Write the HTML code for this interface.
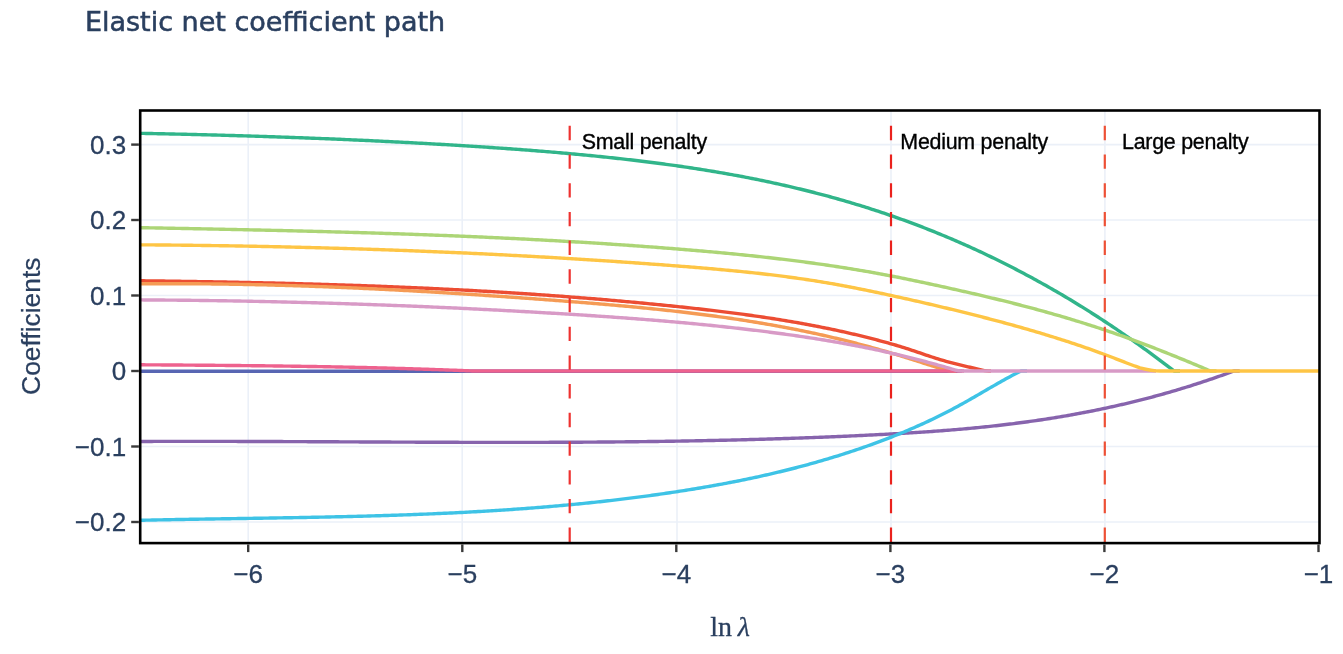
<!DOCTYPE html>
<html><head><meta charset="utf-8"><title>Elastic net coefficient path</title>
<style>html,body{margin:0;padding:0;background:#fff;overflow:hidden}svg{display:block}</style>
</head><body>
<svg width="1343" height="654" viewBox="0 0 1343 654">
<rect x="0" y="0" width="1343" height="654" fill="#ffffff"/>
<line x1="248.2" y1="110.5" x2="248.2" y2="543.1" stroke="#ebf0f8" stroke-width="1.6"/>
<line x1="462.2" y1="110.5" x2="462.2" y2="543.1" stroke="#ebf0f8" stroke-width="1.6"/>
<line x1="677.0" y1="110.5" x2="677.0" y2="543.1" stroke="#ebf0f8" stroke-width="1.6"/>
<line x1="891.0" y1="110.5" x2="891.0" y2="543.1" stroke="#ebf0f8" stroke-width="1.6"/>
<line x1="1104.9" y1="110.5" x2="1104.9" y2="543.1" stroke="#ebf0f8" stroke-width="1.6"/>
<line x1="140.2" y1="522.0" x2="1319.5" y2="522.0" stroke="#ebf0f8" stroke-width="1.6"/>
<line x1="140.2" y1="446.5" x2="1319.5" y2="446.5" stroke="#ebf0f8" stroke-width="1.6"/>
<line x1="140.2" y1="295.5" x2="1319.5" y2="295.5" stroke="#ebf0f8" stroke-width="1.6"/>
<line x1="140.2" y1="220.0" x2="1319.5" y2="220.0" stroke="#ebf0f8" stroke-width="1.6"/>
<line x1="140.2" y1="144.6" x2="1319.5" y2="144.6" stroke="#ebf0f8" stroke-width="1.6"/>
<defs><clipPath id="c"><rect x="140.2" y="110.5" width="1179.3" height="432.6"/></clipPath></defs>
<g clip-path="url(#c)" fill="none" stroke-linejoin="round" stroke-linecap="butt">
<path d="M138.2,371.2 L962.0,371.2" stroke="#5866b3" stroke-width="3.4"/>
<path d="M138.0,280.74 L140.0,280.76 L142.0,280.79 L144.0,280.81 L146.0,280.84 L148.0,280.86 L150.0,280.89 L152.0,280.91 L154.0,280.94 L156.0,280.96 L158.0,280.99 L160.0,281.02 L162.0,281.04 L164.0,281.07 L166.0,281.10 L168.0,281.13 L170.0,281.15 L172.0,281.18 L174.0,281.21 L176.0,281.24 L178.0,281.27 L180.0,281.30 L182.0,281.33 L184.0,281.36 L186.0,281.39 L188.0,281.42 L190.0,281.45 L192.0,281.48 L194.0,281.51 L196.0,281.54 L198.0,281.58 L200.0,281.61 L202.0,281.64 L204.0,281.68 L206.0,281.71 L208.0,281.74 L210.0,281.78 L212.0,281.81 L214.0,281.85 L216.0,281.88 L218.0,281.92 L220.0,281.95 L222.0,281.99 L224.0,282.03 L226.0,282.06 L228.0,282.10 L230.0,282.14 L232.0,282.18 L234.0,282.21 L236.0,282.25 L238.0,282.29 L240.0,282.33 L242.0,282.37 L244.0,282.41 L246.0,282.45 L248.0,282.50 L250.0,282.54 L252.0,282.58 L254.0,282.62 L256.0,282.67 L258.0,282.71 L260.0,282.75 L262.0,282.80 L264.0,282.84 L266.0,282.89 L268.0,282.93 L270.0,282.98 L272.0,283.02 L274.0,283.07 L276.0,283.12 L278.0,283.17 L280.0,283.22 L282.0,283.26 L284.0,283.31 L286.0,283.36 L288.0,283.41 L290.0,283.46 L292.0,283.52 L294.0,283.57 L296.0,283.62 L298.0,283.67 L300.0,283.73 L302.0,283.78 L304.0,283.83 L306.0,283.89 L308.0,283.94 L310.0,284.00 L312.0,284.05 L314.0,284.11 L316.0,284.17 L318.0,284.23 L320.0,284.28 L322.0,284.34 L324.0,284.40 L326.0,284.46 L328.0,284.52 L330.0,284.58 L332.0,284.65 L334.0,284.71 L336.0,284.77 L338.0,284.83 L340.0,284.90 L342.0,284.96 L344.0,285.03 L346.0,285.09 L348.0,285.16 L350.0,285.23 L352.0,285.29 L354.0,285.36 L356.0,285.43 L358.0,285.50 L360.0,285.57 L362.0,285.64 L364.0,285.71 L366.0,285.78 L368.0,285.85 L370.0,285.93 L372.0,286.00 L374.0,286.07 L376.0,286.15 L378.0,286.22 L380.0,286.30 L382.0,286.38 L384.0,286.45 L386.0,286.53 L388.0,286.61 L390.0,286.69 L392.0,286.77 L394.0,286.85 L396.0,286.93 L398.0,287.01 L400.0,287.09 L402.0,287.18 L404.0,287.26 L406.0,287.35 L408.0,287.43 L410.0,287.52 L412.0,287.60 L414.0,287.69 L416.0,287.78 L418.0,287.87 L420.0,287.96 L422.0,288.05 L424.0,288.14 L426.0,288.23 L428.0,288.32 L430.0,288.41 L432.0,288.51 L434.0,288.60 L436.0,288.70 L438.0,288.79 L440.0,288.89 L442.0,288.99 L444.0,289.08 L446.0,289.18 L448.0,289.28 L450.0,289.38 L452.0,289.48 L454.0,289.59 L456.0,289.69 L458.0,289.79 L460.0,289.90 L462.0,290.00 L464.0,290.11 L466.0,290.21 L468.0,290.32 L470.0,290.43 L472.0,290.54 L474.0,290.65 L476.0,290.76 L478.0,290.87 L480.0,290.98 L482.0,291.09 L484.0,291.21 L486.0,291.32 L488.0,291.44 L490.0,291.55 L492.0,291.67 L494.0,291.79 L496.0,291.91 L498.0,292.03 L500.0,292.15 L502.0,292.27 L504.0,292.39 L506.0,292.51 L508.0,292.64 L510.0,292.76 L512.0,292.89 L514.0,293.01 L516.0,293.14 L518.0,293.27 L520.0,293.40 L522.0,293.53 L524.0,293.66 L526.0,293.79 L528.0,293.92 L530.0,294.05 L532.0,294.19 L534.0,294.32 L536.0,294.46 L538.0,294.60 L540.0,294.73 L542.0,294.87 L544.0,295.01 L546.0,295.15 L548.0,295.29 L550.0,295.44 L552.0,295.58 L554.0,295.72 L556.0,295.87 L558.0,296.02 L560.0,296.16 L562.0,296.31 L564.0,296.46 L566.0,296.61 L568.0,296.76 L570.0,296.91 L572.0,297.07 L574.0,297.22 L576.0,297.37 L578.0,297.53 L580.0,297.69 L582.0,297.84 L584.0,298.00 L586.0,298.16 L588.0,298.32 L590.0,298.48 L592.0,298.65 L594.0,298.81 L596.0,298.98 L598.0,299.14 L600.0,299.31 L602.0,299.48 L604.0,299.64 L606.0,299.81 L608.0,299.99 L610.0,300.16 L612.0,300.33 L614.0,300.50 L616.0,300.68 L618.0,300.85 L620.0,301.03 L622.0,301.21 L624.0,301.39 L626.0,301.57 L628.0,301.75 L630.0,301.93 L632.0,302.12 L634.0,302.30 L636.0,302.49 L638.0,302.67 L640.0,302.86 L642.0,303.05 L644.0,303.24 L646.0,303.43 L648.0,303.62 L650.0,303.82 L652.0,304.01 L654.0,304.21 L656.0,304.40 L658.0,304.60 L660.0,304.80 L662.0,305.00 L664.0,305.20 L666.0,305.40 L668.0,305.60 L670.0,305.81 L672.0,306.01 L674.0,306.22 L676.0,306.43 L678.0,306.64 L680.0,306.85 L682.0,307.06 L684.0,307.27 L686.0,307.48 L688.0,307.70 L690.0,307.92 L692.0,308.13 L694.0,308.35 L696.0,308.58 L698.0,308.80 L700.0,309.02 L702.0,309.25 L704.0,309.48 L706.0,309.70 L708.0,309.94 L710.0,310.17 L712.0,310.40 L714.0,310.64 L716.0,310.88 L718.0,311.12 L720.0,311.36 L722.0,311.60 L724.0,311.85 L726.0,312.10 L728.0,312.35 L730.0,312.60 L732.0,312.86 L734.0,313.12 L736.0,313.37 L738.0,313.64 L740.0,313.90 L742.0,314.17 L744.0,314.44 L746.0,314.71 L748.0,314.98 L750.0,315.26 L752.0,315.54 L754.0,315.82 L756.0,316.11 L758.0,316.40 L760.0,316.69 L762.0,316.98 L764.0,317.28 L766.0,317.58 L768.0,317.88 L770.0,318.18 L772.0,318.49 L774.0,318.80 L776.0,319.12 L778.0,319.43 L780.0,319.76 L782.0,320.08 L784.0,320.41 L786.0,320.74 L788.0,321.07 L790.0,321.41 L792.0,321.75 L794.0,322.09 L796.0,322.44 L798.0,322.79 L800.0,323.15 L802.0,323.51 L804.0,323.87 L806.0,324.24 L808.0,324.61 L810.0,324.98 L812.0,325.36 L814.0,325.74 L816.0,326.12 L818.0,326.51 L820.0,326.91 L822.0,327.30 L824.0,327.71 L826.0,328.11 L828.0,328.52 L830.0,328.93 L832.0,329.35 L834.0,329.78 L836.0,330.20 L838.0,330.63 L840.0,331.07 L842.0,331.51 L844.0,331.95 L846.0,332.40 L848.0,332.86 L850.0,333.31 L852.0,333.78 L854.0,334.25 L856.0,334.72 L858.0,335.19 L860.0,335.68 L862.0,336.16 L864.0,336.65 L866.0,337.15 L868.0,337.65 L870.0,338.16 L872.0,338.67 L874.0,339.19 L876.0,339.71 L878.0,340.24 L880.0,340.77 L882.0,341.31 L884.0,341.85 L886.0,342.40 L888.0,342.96 L890.0,343.52 L892.0,344.09 L894.0,344.67 L896.0,345.25 L898.0,345.85 L900.0,346.45 L902.0,347.06 L904.0,347.68 L906.0,348.32 L908.0,348.96 L910.0,349.61 L912.0,350.27 L914.0,350.94 L916.0,351.62 L918.0,352.30 L920.0,352.98 L922.0,353.66 L924.0,354.34 L926.0,355.02 L928.0,355.69 L930.0,356.35 L932.0,357.01 L934.0,357.66 L936.0,358.30 L938.0,358.93 L940.0,359.54 L942.0,360.13 L944.0,360.71 L946.0,361.27 L948.0,361.82 L950.0,362.35 L952.0,362.88 L954.0,363.39 L956.0,363.89 L958.0,364.38 L960.0,364.87 L962.0,365.35 L964.0,365.83 L966.0,366.30 L968.0,366.78 L970.0,367.25 L972.0,367.73 L974.0,368.21 L976.0,368.69 L978.0,369.18 L979.0,369.43 Q985.0,371.0 989.0,371.0 L991.0,371.0" stroke="#ec4d33" stroke-width="3.4"/>
<path d="M138.0,283.86 L140.0,283.84 L142.0,283.83 L144.0,283.81 L146.0,283.80 L148.0,283.78 L150.0,283.77 L152.0,283.76 L154.0,283.75 L156.0,283.74 L158.0,283.73 L160.0,283.72 L162.0,283.72 L164.0,283.71 L166.0,283.71 L168.0,283.71 L170.0,283.71 L172.0,283.71 L174.0,283.71 L176.0,283.71 L178.0,283.71 L180.0,283.72 L182.0,283.72 L184.0,283.73 L186.0,283.74 L188.0,283.75 L190.0,283.76 L192.0,283.77 L194.0,283.78 L196.0,283.79 L198.0,283.81 L200.0,283.82 L202.0,283.84 L204.0,283.86 L206.0,283.88 L208.0,283.90 L210.0,283.92 L212.0,283.94 L214.0,283.96 L216.0,283.98 L218.0,284.01 L220.0,284.04 L222.0,284.06 L224.0,284.09 L226.0,284.12 L228.0,284.15 L230.0,284.18 L232.0,284.21 L234.0,284.25 L236.0,284.28 L238.0,284.32 L240.0,284.35 L242.0,284.39 L244.0,284.43 L246.0,284.47 L248.0,284.51 L250.0,284.55 L252.0,284.59 L254.0,284.64 L256.0,284.68 L258.0,284.72 L260.0,284.77 L262.0,284.82 L264.0,284.87 L266.0,284.92 L268.0,284.97 L270.0,285.02 L272.0,285.07 L274.0,285.12 L276.0,285.18 L278.0,285.23 L280.0,285.29 L282.0,285.34 L284.0,285.40 L286.0,285.46 L288.0,285.52 L290.0,285.58 L292.0,285.64 L294.0,285.70 L296.0,285.77 L298.0,285.83 L300.0,285.90 L302.0,285.96 L304.0,286.03 L306.0,286.10 L308.0,286.16 L310.0,286.23 L312.0,286.30 L314.0,286.38 L316.0,286.45 L318.0,286.52 L320.0,286.60 L322.0,286.67 L324.0,286.75 L326.0,286.82 L328.0,286.90 L330.0,286.98 L332.0,287.06 L334.0,287.14 L336.0,287.22 L338.0,287.30 L340.0,287.38 L342.0,287.47 L344.0,287.55 L346.0,287.63 L348.0,287.72 L350.0,287.81 L352.0,287.89 L354.0,287.98 L356.0,288.07 L358.0,288.16 L360.0,288.25 L362.0,288.34 L364.0,288.44 L366.0,288.53 L368.0,288.62 L370.0,288.72 L372.0,288.81 L374.0,288.91 L376.0,289.01 L378.0,289.10 L380.0,289.20 L382.0,289.30 L384.0,289.40 L386.0,289.50 L388.0,289.60 L390.0,289.71 L392.0,289.81 L394.0,289.91 L396.0,290.02 L398.0,290.12 L400.0,290.23 L402.0,290.33 L404.0,290.44 L406.0,290.55 L408.0,290.66 L410.0,290.77 L412.0,290.88 L414.0,290.99 L416.0,291.10 L418.0,291.21 L420.0,291.33 L422.0,291.44 L424.0,291.55 L426.0,291.67 L428.0,291.79 L430.0,291.90 L432.0,292.02 L434.0,292.14 L436.0,292.26 L438.0,292.38 L440.0,292.50 L442.0,292.62 L444.0,292.74 L446.0,292.86 L448.0,292.98 L450.0,293.10 L452.0,293.23 L454.0,293.35 L456.0,293.48 L458.0,293.60 L460.0,293.73 L462.0,293.86 L464.0,293.98 L466.0,294.11 L468.0,294.24 L470.0,294.37 L472.0,294.50 L474.0,294.63 L476.0,294.76 L478.0,294.89 L480.0,295.03 L482.0,295.16 L484.0,295.29 L486.0,295.43 L488.0,295.56 L490.0,295.70 L492.0,295.83 L494.0,295.97 L496.0,296.11 L498.0,296.24 L500.0,296.38 L502.0,296.52 L504.0,296.66 L506.0,296.80 L508.0,296.94 L510.0,297.08 L512.0,297.22 L514.0,297.37 L516.0,297.51 L518.0,297.65 L520.0,297.79 L522.0,297.94 L524.0,298.08 L526.0,298.23 L528.0,298.37 L530.0,298.52 L532.0,298.67 L534.0,298.81 L536.0,298.96 L538.0,299.11 L540.0,299.26 L542.0,299.41 L544.0,299.56 L546.0,299.71 L548.0,299.86 L550.0,300.01 L552.0,300.16 L554.0,300.31 L556.0,300.46 L558.0,300.62 L560.0,300.77 L562.0,300.92 L564.0,301.08 L566.0,301.23 L568.0,301.39 L570.0,301.54 L572.0,301.70 L574.0,301.86 L576.0,302.01 L578.0,302.17 L580.0,302.33 L582.0,302.49 L584.0,302.65 L586.0,302.81 L588.0,302.98 L590.0,303.14 L592.0,303.30 L594.0,303.47 L596.0,303.63 L598.0,303.80 L600.0,303.97 L602.0,304.13 L604.0,304.30 L606.0,304.48 L608.0,304.65 L610.0,304.82 L612.0,304.99 L614.0,305.17 L616.0,305.34 L618.0,305.52 L620.0,305.70 L622.0,305.88 L624.0,306.06 L626.0,306.24 L628.0,306.43 L630.0,306.61 L632.0,306.80 L634.0,306.99 L636.0,307.18 L638.0,307.37 L640.0,307.56 L642.0,307.76 L644.0,307.95 L646.0,308.15 L648.0,308.35 L650.0,308.55 L652.0,308.75 L654.0,308.96 L656.0,309.16 L658.0,309.37 L660.0,309.58 L662.0,309.79 L664.0,310.00 L666.0,310.22 L668.0,310.44 L670.0,310.65 L672.0,310.88 L674.0,311.10 L676.0,311.32 L678.0,311.55 L680.0,311.78 L682.0,312.01 L684.0,312.24 L686.0,312.48 L688.0,312.72 L690.0,312.96 L692.0,313.20 L694.0,313.44 L696.0,313.69 L698.0,313.94 L700.0,314.19 L702.0,314.44 L704.0,314.70 L706.0,314.96 L708.0,315.22 L710.0,315.48 L712.0,315.75 L714.0,316.01 L716.0,316.28 L718.0,316.56 L720.0,316.83 L722.0,317.11 L724.0,317.39 L726.0,317.68 L728.0,317.97 L730.0,318.25 L732.0,318.55 L734.0,318.84 L736.0,319.14 L738.0,319.44 L740.0,319.74 L742.0,320.05 L744.0,320.36 L746.0,320.67 L748.0,320.99 L750.0,321.31 L752.0,321.63 L754.0,321.95 L756.0,322.28 L758.0,322.61 L760.0,322.95 L762.0,323.29 L764.0,323.63 L766.0,323.97 L768.0,324.32 L770.0,324.67 L772.0,325.02 L774.0,325.38 L776.0,325.74 L778.0,326.10 L780.0,326.47 L782.0,326.84 L784.0,327.22 L786.0,327.59 L788.0,327.98 L790.0,328.36 L792.0,328.75 L794.0,329.14 L796.0,329.54 L798.0,329.94 L800.0,330.34 L802.0,330.75 L804.0,331.16 L806.0,331.57 L808.0,331.99 L810.0,332.41 L812.0,332.84 L814.0,333.27 L816.0,333.70 L818.0,334.14 L820.0,334.58 L822.0,335.03 L824.0,335.48 L826.0,335.93 L828.0,336.39 L830.0,336.86 L832.0,337.32 L834.0,337.79 L836.0,338.27 L838.0,338.75 L840.0,339.23 L842.0,339.72 L844.0,340.21 L846.0,340.70 L848.0,341.20 L850.0,341.71 L852.0,342.22 L854.0,342.73 L856.0,343.24 L858.0,343.77 L860.0,344.29 L862.0,344.82 L864.0,345.35 L866.0,345.89 L868.0,346.43 L870.0,346.98 L872.0,347.53 L874.0,348.08 L876.0,348.64 L878.0,349.20 L880.0,349.77 L882.0,350.34 L884.0,350.91 L886.0,351.49 L888.0,352.08 L890.0,352.66 L892.0,353.26 L894.0,353.85 L896.0,354.45 L898.0,355.06 L900.0,355.67 L902.0,356.28 L904.0,356.90 L906.0,357.52 L908.0,358.14 L910.0,358.77 L912.0,359.41 L914.0,360.05 L916.0,360.69 L918.0,361.34 L920.0,361.99 L922.0,362.64 L924.0,363.29 L926.0,363.94 L928.0,364.59 L930.0,365.23 L932.0,365.86 L934.0,366.49 L936.0,367.11 L938.0,367.71 L940.0,368.31 L942.0,368.88 L944.0,369.45 L946.0,369.99 Q950.0,371.0 953.0,371.0 L956.0,371.0" stroke="#f59b55" stroke-width="3.4"/>
<path d="M138.0,364.79 L140.0,364.80 L142.0,364.81 L144.0,364.82 L146.0,364.84 L148.0,364.85 L150.0,364.86 L152.0,364.87 L154.0,364.89 L156.0,364.90 L158.0,364.91 L160.0,364.92 L162.0,364.94 L164.0,364.95 L166.0,364.96 L168.0,364.98 L170.0,364.99 L172.0,365.00 L174.0,365.02 L176.0,365.03 L178.0,365.04 L180.0,365.06 L182.0,365.07 L184.0,365.09 L186.0,365.10 L188.0,365.12 L190.0,365.13 L192.0,365.15 L194.0,365.16 L196.0,365.18 L198.0,365.19 L200.0,365.21 L202.0,365.22 L204.0,365.24 L206.0,365.25 L208.0,365.27 L210.0,365.29 L212.0,365.30 L214.0,365.32 L216.0,365.34 L218.0,365.35 L220.0,365.37 L222.0,365.39 L224.0,365.41 L226.0,365.43 L228.0,365.44 L230.0,365.46 L232.0,365.48 L234.0,365.50 L236.0,365.52 L238.0,365.54 L240.0,365.56 L242.0,365.58 L244.0,365.60 L246.0,365.62 L248.0,365.64 L250.0,365.66 L252.0,365.69 L254.0,365.71 L256.0,365.73 L258.0,365.75 L260.0,365.78 L262.0,365.80 L264.0,365.82 L266.0,365.85 L268.0,365.87 L270.0,365.90 L272.0,365.92 L274.0,365.95 L276.0,365.97 L278.0,366.00 L280.0,366.02 L282.0,366.05 L284.0,366.08 L286.0,366.10 L288.0,366.13 L290.0,366.16 L292.0,366.19 L294.0,366.22 L296.0,366.25 L298.0,366.28 L300.0,366.31 L302.0,366.34 L304.0,366.37 L306.0,366.40 L308.0,366.43 L310.0,366.47 L312.0,366.50 L314.0,366.53 L316.0,366.57 L318.0,366.60 L320.0,366.63 L322.0,366.67 L324.0,366.70 L326.0,366.74 L328.0,366.78 L330.0,366.81 L332.0,366.85 L334.0,366.89 L336.0,366.93 L338.0,366.97 L340.0,367.01 L342.0,367.05 L344.0,367.09 L346.0,367.13 L348.0,367.17 L350.0,367.21 L352.0,367.25 L354.0,367.30 L356.0,367.34 L358.0,367.38 L360.0,367.43 L362.0,367.47 L364.0,367.52 L366.0,367.57 L368.0,367.61 L370.0,367.66 L372.0,367.71 L374.0,367.76 L376.0,367.81 L378.0,367.86 L380.0,367.91 L382.0,367.96 L384.0,368.01 L386.0,368.06 L388.0,368.12 L390.0,368.17 L392.0,368.22 L394.0,368.28 L396.0,368.33 L398.0,368.39 L400.0,368.45 L402.0,368.50 L404.0,368.56 L406.0,368.62 L408.0,368.68 L410.0,368.74 L412.0,368.80 L414.0,368.86 L416.0,368.93 L418.0,368.99 L420.0,369.05 L422.0,369.12 L424.0,369.18 L426.0,369.25 L428.0,369.31 L430.0,369.38 L432.0,369.45 L434.0,369.52 L436.0,369.59 L438.0,369.66 L440.0,369.73 L442.0,369.80 L444.0,369.87 L446.0,369.94 L448.0,370.02 L450.0,370.09 L452.0,370.17 L454.0,370.24 L456.0,370.32 L458.0,370.40 L460.0,370.48 L462.0,370.55 L464.0,370.63 L466.0,370.72 L468.0,370.80 L470.0,370.88 L472.0,370.96 L472.8,371.0 L964.0,371.0" stroke="#ee628e" stroke-width="3.4"/>
<path d="M138.0,441.48 L140.0,441.47 L142.0,441.46 L144.0,441.45 L146.0,441.45 L148.0,441.44 L150.0,441.43 L152.0,441.43 L154.0,441.42 L156.0,441.42 L158.0,441.41 L160.0,441.41 L162.0,441.40 L164.0,441.40 L166.0,441.40 L168.0,441.39 L170.0,441.39 L172.0,441.39 L174.0,441.38 L176.0,441.38 L178.0,441.38 L180.0,441.38 L182.0,441.37 L184.0,441.37 L186.0,441.37 L188.0,441.37 L190.0,441.37 L192.0,441.37 L194.0,441.37 L196.0,441.37 L198.0,441.37 L200.0,441.37 L202.0,441.37 L204.0,441.37 L206.0,441.38 L208.0,441.38 L210.0,441.38 L212.0,441.38 L214.0,441.38 L216.0,441.39 L218.0,441.39 L220.0,441.39 L222.0,441.39 L224.0,441.40 L226.0,441.40 L228.0,441.41 L230.0,441.41 L232.0,441.41 L234.0,441.42 L236.0,441.42 L238.0,441.43 L240.0,441.43 L242.0,441.44 L244.0,441.44 L246.0,441.45 L248.0,441.45 L250.0,441.46 L252.0,441.46 L254.0,441.47 L256.0,441.48 L258.0,441.48 L260.0,441.49 L262.0,441.50 L264.0,441.50 L266.0,441.51 L268.0,441.52 L270.0,441.52 L272.0,441.53 L274.0,441.54 L276.0,441.55 L278.0,441.55 L280.0,441.56 L282.0,441.57 L284.0,441.58 L286.0,441.59 L288.0,441.59 L290.0,441.60 L292.0,441.61 L294.0,441.62 L296.0,441.63 L298.0,441.64 L300.0,441.64 L302.0,441.65 L304.0,441.66 L306.0,441.67 L308.0,441.68 L310.0,441.69 L312.0,441.70 L314.0,441.71 L316.0,441.72 L318.0,441.73 L320.0,441.74 L322.0,441.75 L324.0,441.75 L326.0,441.76 L328.0,441.77 L330.0,441.78 L332.0,441.79 L334.0,441.80 L336.0,441.81 L338.0,441.82 L340.0,441.83 L342.0,441.84 L344.0,441.85 L346.0,441.86 L348.0,441.87 L350.0,441.88 L352.0,441.89 L354.0,441.90 L356.0,441.91 L358.0,441.92 L360.0,441.93 L362.0,441.94 L364.0,441.95 L366.0,441.96 L368.0,441.97 L370.0,441.98 L372.0,441.99 L374.0,442.00 L376.0,442.01 L378.0,442.02 L380.0,442.02 L382.0,442.03 L384.0,442.04 L386.0,442.05 L388.0,442.06 L390.0,442.07 L392.0,442.08 L394.0,442.09 L396.0,442.10 L398.0,442.11 L400.0,442.12 L402.0,442.12 L404.0,442.13 L406.0,442.14 L408.0,442.15 L410.0,442.16 L412.0,442.17 L414.0,442.17 L416.0,442.18 L418.0,442.19 L420.0,442.20 L422.0,442.21 L424.0,442.21 L426.0,442.22 L428.0,442.23 L430.0,442.24 L432.0,442.24 L434.0,442.25 L436.0,442.26 L438.0,442.26 L440.0,442.27 L442.0,442.28 L444.0,442.28 L446.0,442.29 L448.0,442.29 L450.0,442.30 L452.0,442.31 L454.0,442.31 L456.0,442.32 L458.0,442.32 L460.0,442.33 L462.0,442.33 L464.0,442.34 L466.0,442.34 L468.0,442.35 L470.0,442.35 L472.0,442.35 L474.0,442.36 L476.0,442.36 L478.0,442.36 L480.0,442.37 L482.0,442.37 L484.0,442.37 L486.0,442.37 L488.0,442.38 L490.0,442.38 L492.0,442.38 L494.0,442.38 L496.0,442.38 L498.0,442.38 L500.0,442.39 L502.0,442.39 L504.0,442.39 L506.0,442.39 L508.0,442.39 L510.0,442.39 L512.0,442.39 L514.0,442.38 L516.0,442.38 L518.0,442.38 L520.0,442.38 L522.0,442.38 L524.0,442.38 L526.0,442.37 L528.0,442.37 L530.0,442.37 L532.0,442.36 L534.0,442.36 L536.0,442.36 L538.0,442.35 L540.0,442.35 L542.0,442.34 L544.0,442.34 L546.0,442.33 L548.0,442.33 L550.0,442.32 L552.0,442.31 L554.0,442.31 L556.0,442.30 L558.0,442.29 L560.0,442.29 L562.0,442.28 L564.0,442.27 L566.0,442.26 L568.0,442.25 L570.0,442.24 L572.0,442.23 L574.0,442.22 L576.0,442.21 L578.0,442.20 L580.0,442.19 L582.0,442.18 L584.0,442.17 L586.0,442.15 L588.0,442.14 L590.0,442.13 L592.0,442.11 L594.0,442.10 L596.0,442.09 L598.0,442.07 L600.0,442.06 L602.0,442.04 L604.0,442.03 L606.0,442.01 L608.0,441.99 L610.0,441.98 L612.0,441.96 L614.0,441.94 L616.0,441.92 L618.0,441.90 L620.0,441.88 L622.0,441.87 L624.0,441.85 L626.0,441.82 L628.0,441.80 L630.0,441.78 L632.0,441.76 L634.0,441.74 L636.0,441.72 L638.0,441.69 L640.0,441.67 L642.0,441.65 L644.0,441.62 L646.0,441.60 L648.0,441.57 L650.0,441.54 L652.0,441.52 L654.0,441.49 L656.0,441.46 L658.0,441.44 L660.0,441.41 L662.0,441.38 L664.0,441.35 L666.0,441.32 L668.0,441.29 L670.0,441.26 L672.0,441.23 L674.0,441.20 L676.0,441.16 L678.0,441.13 L680.0,441.10 L682.0,441.06 L684.0,441.03 L686.0,440.99 L688.0,440.96 L690.0,440.92 L692.0,440.88 L694.0,440.85 L696.0,440.81 L698.0,440.77 L700.0,440.73 L702.0,440.69 L704.0,440.65 L706.0,440.61 L708.0,440.57 L710.0,440.53 L712.0,440.49 L714.0,440.45 L716.0,440.40 L718.0,440.36 L720.0,440.31 L722.0,440.27 L724.0,440.22 L726.0,440.18 L728.0,440.13 L730.0,440.08 L732.0,440.03 L734.0,439.99 L736.0,439.94 L738.0,439.89 L740.0,439.84 L742.0,439.78 L744.0,439.73 L746.0,439.68 L748.0,439.63 L750.0,439.57 L752.0,439.52 L754.0,439.46 L756.0,439.41 L758.0,439.35 L760.0,439.29 L762.0,439.24 L764.0,439.18 L766.0,439.12 L768.0,439.06 L770.0,439.00 L772.0,438.94 L774.0,438.88 L776.0,438.82 L778.0,438.75 L780.0,438.69 L782.0,438.62 L784.0,438.56 L786.0,438.49 L788.0,438.43 L790.0,438.36 L792.0,438.29 L794.0,438.22 L796.0,438.15 L798.0,438.08 L800.0,438.01 L802.0,437.94 L804.0,437.87 L806.0,437.80 L808.0,437.72 L810.0,437.65 L812.0,437.58 L814.0,437.50 L816.0,437.42 L818.0,437.35 L820.0,437.27 L822.0,437.19 L824.0,437.11 L826.0,437.03 L828.0,436.95 L830.0,436.87 L832.0,436.78 L834.0,436.70 L836.0,436.62 L838.0,436.53 L840.0,436.45 L842.0,436.36 L844.0,436.27 L846.0,436.19 L848.0,436.10 L850.0,436.01 L852.0,435.92 L854.0,435.83 L856.0,435.73 L858.0,435.64 L860.0,435.55 L862.0,435.45 L864.0,435.36 L866.0,435.26 L868.0,435.17 L870.0,435.07 L872.0,434.97 L874.0,434.87 L876.0,434.77 L878.0,434.67 L880.0,434.57 L882.0,434.46 L884.0,434.36 L886.0,434.25 L888.0,434.15 L890.0,434.04 L892.0,433.93 L894.0,433.82 L896.0,433.71 L898.0,433.59 L900.0,433.48 L902.0,433.36 L904.0,433.25 L906.0,433.13 L908.0,433.01 L910.0,432.89 L912.0,432.76 L914.0,432.64 L916.0,432.51 L918.0,432.38 L920.0,432.25 L922.0,432.12 L924.0,431.99 L926.0,431.85 L928.0,431.72 L930.0,431.58 L932.0,431.44 L934.0,431.29 L936.0,431.15 L938.0,431.00 L940.0,430.85 L942.0,430.70 L944.0,430.55 L946.0,430.39 L948.0,430.24 L950.0,430.08 L952.0,429.91 L954.0,429.75 L956.0,429.58 L958.0,429.41 L960.0,429.24 L962.0,429.07 L964.0,428.89 L966.0,428.71 L968.0,428.53 L970.0,428.35 L972.0,428.16 L974.0,427.97 L976.0,427.78 L978.0,427.58 L980.0,427.39 L982.0,427.18 L984.0,426.98 L986.0,426.78 L988.0,426.57 L990.0,426.35 L992.0,426.14 L994.0,425.92 L996.0,425.70 L998.0,425.48 L1000.0,425.25 L1002.0,425.02 L1004.0,424.78 L1006.0,424.55 L1008.0,424.31 L1010.0,424.06 L1012.0,423.82 L1014.0,423.57 L1016.0,423.31 L1018.0,423.05 L1020.0,422.79 L1022.0,422.53 L1024.0,422.26 L1026.0,421.99 L1028.0,421.72 L1030.0,421.44 L1032.0,421.16 L1034.0,420.87 L1036.0,420.59 L1038.0,420.29 L1040.0,420.00 L1042.0,419.70 L1044.0,419.39 L1046.0,419.09 L1048.0,418.78 L1050.0,418.46 L1052.0,418.15 L1054.0,417.82 L1056.0,417.50 L1058.0,417.17 L1060.0,416.84 L1062.0,416.50 L1064.0,416.16 L1066.0,415.81 L1068.0,415.46 L1070.0,415.11 L1072.0,414.76 L1074.0,414.40 L1076.0,414.03 L1078.0,413.66 L1080.0,413.29 L1082.0,412.91 L1084.0,412.53 L1086.0,412.15 L1088.0,411.76 L1090.0,411.37 L1092.0,410.97 L1094.0,410.57 L1096.0,410.16 L1098.0,409.75 L1100.0,409.34 L1102.0,408.92 L1104.0,408.50 L1106.0,408.07 L1108.0,407.64 L1110.0,407.21 L1112.0,406.77 L1114.0,406.32 L1116.0,405.87 L1118.0,405.42 L1120.0,404.96 L1122.0,404.50 L1124.0,404.04 L1126.0,403.56 L1128.0,403.09 L1130.0,402.61 L1132.0,402.13 L1134.0,401.64 L1136.0,401.14 L1138.0,400.64 L1140.0,400.14 L1142.0,399.63 L1144.0,399.12 L1146.0,398.61 L1148.0,398.08 L1150.0,397.56 L1152.0,397.03 L1154.0,396.49 L1156.0,395.95 L1158.0,395.41 L1160.0,394.85 L1162.0,394.30 L1164.0,393.74 L1166.0,393.17 L1168.0,392.60 L1170.0,392.03 L1172.0,391.45 L1174.0,390.87 L1176.0,390.28 L1178.0,389.68 L1180.0,389.08 L1182.0,388.48 L1184.0,387.87 L1186.0,387.25 L1188.0,386.63 L1190.0,386.01 L1192.0,385.38 L1194.0,384.74 L1196.0,384.10 L1198.0,383.45 L1200.0,382.80 L1202.0,382.14 L1204.0,381.48 L1206.0,380.82 L1208.0,380.14 L1210.0,379.46 L1212.0,378.78 L1214.0,378.09 L1216.0,377.40 L1218.0,376.70 L1220.0,375.99 L1222.0,375.28 L1224.0,374.57 L1226.0,373.85 L1228.0,373.12 L1230.0,372.39 L1232.0,371.65 L1233.7,371.0 L1239.7,371.0" stroke="#8764ad" stroke-width="3.4"/>
<path d="M138.0,520.34 L140.0,520.30 L142.0,520.25 L144.0,520.21 L146.0,520.16 L148.0,520.12 L150.0,520.08 L152.0,520.04 L154.0,520.00 L156.0,519.95 L158.0,519.91 L160.0,519.87 L162.0,519.83 L164.0,519.80 L166.0,519.76 L168.0,519.72 L170.0,519.68 L172.0,519.64 L174.0,519.61 L176.0,519.57 L178.0,519.53 L180.0,519.50 L182.0,519.46 L184.0,519.43 L186.0,519.39 L188.0,519.36 L190.0,519.32 L192.0,519.29 L194.0,519.25 L196.0,519.22 L198.0,519.19 L200.0,519.15 L202.0,519.12 L204.0,519.09 L206.0,519.06 L208.0,519.02 L210.0,518.99 L212.0,518.96 L214.0,518.93 L216.0,518.90 L218.0,518.86 L220.0,518.83 L222.0,518.80 L224.0,518.77 L226.0,518.74 L228.0,518.71 L230.0,518.68 L232.0,518.65 L234.0,518.62 L236.0,518.58 L238.0,518.55 L240.0,518.52 L242.0,518.49 L244.0,518.46 L246.0,518.43 L248.0,518.40 L250.0,518.37 L252.0,518.34 L254.0,518.31 L256.0,518.27 L258.0,518.24 L260.0,518.21 L262.0,518.18 L264.0,518.15 L266.0,518.12 L268.0,518.08 L270.0,518.05 L272.0,518.02 L274.0,517.99 L276.0,517.95 L278.0,517.92 L280.0,517.89 L282.0,517.85 L284.0,517.82 L286.0,517.79 L288.0,517.75 L290.0,517.72 L292.0,517.68 L294.0,517.65 L296.0,517.61 L298.0,517.58 L300.0,517.54 L302.0,517.50 L304.0,517.47 L306.0,517.43 L308.0,517.39 L310.0,517.35 L312.0,517.32 L314.0,517.28 L316.0,517.24 L318.0,517.20 L320.0,517.16 L322.0,517.12 L324.0,517.08 L326.0,517.03 L328.0,516.99 L330.0,516.95 L332.0,516.91 L334.0,516.86 L336.0,516.82 L338.0,516.77 L340.0,516.73 L342.0,516.68 L344.0,516.64 L346.0,516.59 L348.0,516.54 L350.0,516.49 L352.0,516.44 L354.0,516.39 L356.0,516.34 L358.0,516.29 L360.0,516.24 L362.0,516.19 L364.0,516.14 L366.0,516.08 L368.0,516.03 L370.0,515.97 L372.0,515.92 L374.0,515.86 L376.0,515.80 L378.0,515.74 L380.0,515.68 L382.0,515.62 L384.0,515.56 L386.0,515.50 L388.0,515.44 L390.0,515.38 L392.0,515.31 L394.0,515.25 L396.0,515.18 L398.0,515.11 L400.0,515.05 L402.0,514.98 L404.0,514.91 L406.0,514.84 L408.0,514.77 L410.0,514.69 L412.0,514.62 L414.0,514.55 L416.0,514.47 L418.0,514.39 L420.0,514.32 L422.0,514.24 L424.0,514.16 L426.0,514.08 L428.0,514.00 L430.0,513.91 L432.0,513.83 L434.0,513.74 L436.0,513.66 L438.0,513.57 L440.0,513.48 L442.0,513.39 L444.0,513.30 L446.0,513.21 L448.0,513.12 L450.0,513.02 L452.0,512.93 L454.0,512.83 L456.0,512.73 L458.0,512.63 L460.0,512.53 L462.0,512.43 L464.0,512.33 L466.0,512.22 L468.0,512.12 L470.0,512.01 L472.0,511.90 L474.0,511.79 L476.0,511.68 L478.0,511.57 L480.0,511.45 L482.0,511.34 L484.0,511.22 L486.0,511.11 L488.0,510.99 L490.0,510.87 L492.0,510.74 L494.0,510.62 L496.0,510.49 L498.0,510.37 L500.0,510.24 L502.0,510.11 L504.0,509.98 L506.0,509.85 L508.0,509.71 L510.0,509.58 L512.0,509.44 L514.0,509.30 L516.0,509.16 L518.0,509.02 L520.0,508.88 L522.0,508.73 L524.0,508.58 L526.0,508.43 L528.0,508.28 L530.0,508.13 L532.0,507.98 L534.0,507.82 L536.0,507.67 L538.0,507.51 L540.0,507.35 L542.0,507.19 L544.0,507.02 L546.0,506.86 L548.0,506.69 L550.0,506.52 L552.0,506.35 L554.0,506.18 L556.0,506.00 L558.0,505.83 L560.0,505.65 L562.0,505.47 L564.0,505.29 L566.0,505.11 L568.0,504.92 L570.0,504.73 L572.0,504.54 L574.0,504.35 L576.0,504.16 L578.0,503.96 L580.0,503.77 L582.0,503.57 L584.0,503.37 L586.0,503.17 L588.0,502.96 L590.0,502.75 L592.0,502.54 L594.0,502.33 L596.0,502.12 L598.0,501.91 L600.0,501.69 L602.0,501.47 L604.0,501.25 L606.0,501.03 L608.0,500.80 L610.0,500.57 L612.0,500.34 L614.0,500.11 L616.0,499.88 L618.0,499.64 L620.0,499.40 L622.0,499.16 L624.0,498.92 L626.0,498.68 L628.0,498.43 L630.0,498.18 L632.0,497.93 L634.0,497.67 L636.0,497.42 L638.0,497.16 L640.0,496.90 L642.0,496.64 L644.0,496.37 L646.0,496.10 L648.0,495.83 L650.0,495.56 L652.0,495.29 L654.0,495.01 L656.0,494.73 L658.0,494.45 L660.0,494.17 L662.0,493.88 L664.0,493.59 L666.0,493.30 L668.0,493.01 L670.0,492.71 L672.0,492.41 L674.0,492.11 L676.0,491.81 L678.0,491.50 L680.0,491.19 L682.0,490.88 L684.0,490.57 L686.0,490.25 L688.0,489.93 L690.0,489.61 L692.0,489.28 L694.0,488.96 L696.0,488.62 L698.0,488.29 L700.0,487.96 L702.0,487.62 L704.0,487.27 L706.0,486.93 L708.0,486.58 L710.0,486.23 L712.0,485.88 L714.0,485.52 L716.0,485.16 L718.0,484.79 L720.0,484.43 L722.0,484.06 L724.0,483.68 L726.0,483.31 L728.0,482.93 L730.0,482.54 L732.0,482.16 L734.0,481.77 L736.0,481.37 L738.0,480.97 L740.0,480.57 L742.0,480.17 L744.0,479.76 L746.0,479.35 L748.0,478.93 L750.0,478.51 L752.0,478.09 L754.0,477.66 L756.0,477.23 L758.0,476.79 L760.0,476.35 L762.0,475.91 L764.0,475.46 L766.0,475.01 L768.0,474.55 L770.0,474.10 L772.0,473.63 L774.0,473.16 L776.0,472.69 L778.0,472.21 L780.0,471.73 L782.0,471.25 L784.0,470.76 L786.0,470.27 L788.0,469.77 L790.0,469.26 L792.0,468.76 L794.0,468.24 L796.0,467.73 L798.0,467.21 L800.0,466.68 L802.0,466.15 L804.0,465.62 L806.0,465.08 L808.0,464.53 L810.0,463.98 L812.0,463.43 L814.0,462.87 L816.0,462.30 L818.0,461.73 L820.0,461.16 L822.0,460.58 L824.0,459.99 L826.0,459.40 L828.0,458.81 L830.0,458.21 L832.0,457.60 L834.0,456.99 L836.0,456.38 L838.0,455.76 L840.0,455.13 L842.0,454.50 L844.0,453.86 L846.0,453.22 L848.0,452.57 L850.0,451.92 L852.0,451.26 L854.0,450.59 L856.0,449.92 L858.0,449.24 L860.0,448.56 L862.0,447.87 L864.0,447.18 L866.0,446.48 L868.0,445.77 L870.0,445.06 L872.0,444.35 L874.0,443.62 L876.0,442.89 L878.0,442.16 L880.0,441.41 L882.0,440.66 L884.0,439.91 L886.0,439.14 L888.0,438.38 L890.0,437.60 L892.0,436.81 L894.0,436.02 L896.0,435.22 L898.0,434.42 L900.0,433.60 L902.0,432.78 L904.0,431.95 L906.0,431.12 L908.0,430.27 L910.0,429.42 L912.0,428.56 L914.0,427.69 L916.0,426.81 L918.0,425.92 L920.0,425.02 L922.0,424.12 L924.0,423.21 L926.0,422.28 L928.0,421.35 L930.0,420.41 L932.0,419.46 L934.0,418.50 L936.0,417.53 L938.0,416.55 L940.0,415.56 L942.0,414.56 L944.0,413.55 L946.0,412.53 L948.0,411.50 L950.0,410.46 L952.0,409.41 L954.0,408.35 L956.0,407.28 L958.0,406.19 L960.0,405.10 L962.0,403.99 L964.0,402.88 L966.0,401.75 L968.0,400.62 L970.0,399.48 L972.0,398.34 L974.0,397.18 L976.0,396.03 L978.0,394.87 L980.0,393.71 L982.0,392.55 L984.0,391.38 L986.0,390.22 L988.0,389.06 L990.0,387.90 L992.0,386.75 L994.0,385.60 L996.0,384.45 L998.0,383.31 L1000.0,382.18 L1002.0,381.06 L1004.0,379.94 L1006.0,378.84 L1008.0,377.75 L1010.0,376.67 L1012.0,375.60 L1014.0,374.55 L1016.0,373.51 L1018.0,372.49 L1020.0,371.48 L1021.0,371.0 L1027.0,371.0" stroke="#3ec3e6" stroke-width="3.4"/>
<path d="M138.0,133.29 L140.0,133.33 L142.0,133.37 L144.0,133.41 L146.0,133.45 L148.0,133.48 L150.0,133.52 L152.0,133.56 L154.0,133.61 L156.0,133.65 L158.0,133.69 L160.0,133.73 L162.0,133.77 L164.0,133.81 L166.0,133.86 L168.0,133.90 L170.0,133.94 L172.0,133.99 L174.0,134.03 L176.0,134.08 L178.0,134.12 L180.0,134.17 L182.0,134.21 L184.0,134.26 L186.0,134.31 L188.0,134.35 L190.0,134.40 L192.0,134.45 L194.0,134.50 L196.0,134.55 L198.0,134.60 L200.0,134.65 L202.0,134.70 L204.0,134.75 L206.0,134.80 L208.0,134.85 L210.0,134.90 L212.0,134.95 L214.0,135.01 L216.0,135.06 L218.0,135.11 L220.0,135.17 L222.0,135.22 L224.0,135.28 L226.0,135.33 L228.0,135.39 L230.0,135.45 L232.0,135.50 L234.0,135.56 L236.0,135.62 L238.0,135.68 L240.0,135.74 L242.0,135.80 L244.0,135.86 L246.0,135.92 L248.0,135.98 L250.0,136.04 L252.0,136.10 L254.0,136.16 L256.0,136.23 L258.0,136.29 L260.0,136.35 L262.0,136.42 L264.0,136.48 L266.0,136.55 L268.0,136.61 L270.0,136.68 L272.0,136.74 L274.0,136.81 L276.0,136.88 L278.0,136.95 L280.0,137.02 L282.0,137.09 L284.0,137.16 L286.0,137.23 L288.0,137.30 L290.0,137.37 L292.0,137.44 L294.0,137.51 L296.0,137.58 L298.0,137.66 L300.0,137.73 L302.0,137.81 L304.0,137.88 L306.0,137.96 L308.0,138.03 L310.0,138.11 L312.0,138.19 L314.0,138.26 L316.0,138.34 L318.0,138.42 L320.0,138.50 L322.0,138.58 L324.0,138.66 L326.0,138.74 L328.0,138.82 L330.0,138.90 L332.0,138.99 L334.0,139.07 L336.0,139.15 L338.0,139.24 L340.0,139.32 L342.0,139.41 L344.0,139.49 L346.0,139.58 L348.0,139.67 L350.0,139.75 L352.0,139.84 L354.0,139.93 L356.0,140.02 L358.0,140.11 L360.0,140.20 L362.0,140.29 L364.0,140.38 L366.0,140.48 L368.0,140.57 L370.0,140.66 L372.0,140.76 L374.0,140.85 L376.0,140.95 L378.0,141.04 L380.0,141.14 L382.0,141.24 L384.0,141.33 L386.0,141.43 L388.0,141.53 L390.0,141.63 L392.0,141.73 L394.0,141.83 L396.0,141.93 L398.0,142.03 L400.0,142.14 L402.0,142.24 L404.0,142.34 L406.0,142.45 L408.0,142.55 L410.0,142.66 L412.0,142.77 L414.0,142.87 L416.0,142.98 L418.0,143.09 L420.0,143.20 L422.0,143.31 L424.0,143.42 L426.0,143.53 L428.0,143.64 L430.0,143.75 L432.0,143.86 L434.0,143.98 L436.0,144.09 L438.0,144.21 L440.0,144.32 L442.0,144.44 L444.0,144.55 L446.0,144.67 L448.0,144.79 L450.0,144.91 L452.0,145.03 L454.0,145.15 L456.0,145.27 L458.0,145.39 L460.0,145.51 L462.0,145.64 L464.0,145.76 L466.0,145.88 L468.0,146.01 L470.0,146.13 L472.0,146.26 L474.0,146.39 L476.0,146.51 L478.0,146.64 L480.0,146.77 L482.0,146.90 L484.0,147.03 L486.0,147.17 L488.0,147.30 L490.0,147.43 L492.0,147.57 L494.0,147.70 L496.0,147.84 L498.0,147.98 L500.0,148.11 L502.0,148.25 L504.0,148.39 L506.0,148.53 L508.0,148.68 L510.0,148.82 L512.0,148.96 L514.0,149.11 L516.0,149.25 L518.0,149.40 L520.0,149.55 L522.0,149.70 L524.0,149.85 L526.0,150.00 L528.0,150.16 L530.0,150.31 L532.0,150.46 L534.0,150.62 L536.0,150.78 L538.0,150.94 L540.0,151.10 L542.0,151.26 L544.0,151.42 L546.0,151.58 L548.0,151.75 L550.0,151.92 L552.0,152.08 L554.0,152.25 L556.0,152.42 L558.0,152.59 L560.0,152.77 L562.0,152.94 L564.0,153.12 L566.0,153.30 L568.0,153.47 L570.0,153.65 L572.0,153.84 L574.0,154.02 L576.0,154.20 L578.0,154.39 L580.0,154.58 L582.0,154.77 L584.0,154.96 L586.0,155.15 L588.0,155.34 L590.0,155.54 L592.0,155.73 L594.0,155.93 L596.0,156.13 L598.0,156.34 L600.0,156.54 L602.0,156.74 L604.0,156.95 L606.0,157.16 L608.0,157.37 L610.0,157.58 L612.0,157.80 L614.0,158.01 L616.0,158.23 L618.0,158.45 L620.0,158.67 L622.0,158.89 L624.0,159.12 L626.0,159.34 L628.0,159.57 L630.0,159.80 L632.0,160.03 L634.0,160.27 L636.0,160.50 L638.0,160.74 L640.0,160.98 L642.0,161.23 L644.0,161.47 L646.0,161.72 L648.0,161.97 L650.0,162.22 L652.0,162.47 L654.0,162.73 L656.0,162.98 L658.0,163.24 L660.0,163.51 L662.0,163.77 L664.0,164.04 L666.0,164.31 L668.0,164.58 L670.0,164.85 L672.0,165.13 L674.0,165.41 L676.0,165.69 L678.0,165.98 L680.0,166.26 L682.0,166.55 L684.0,166.84 L686.0,167.14 L688.0,167.43 L690.0,167.73 L692.0,168.04 L694.0,168.34 L696.0,168.65 L698.0,168.96 L700.0,169.27 L702.0,169.59 L704.0,169.91 L706.0,170.23 L708.0,170.56 L710.0,170.88 L712.0,171.21 L714.0,171.55 L716.0,171.88 L718.0,172.22 L720.0,172.57 L722.0,172.91 L724.0,173.26 L726.0,173.61 L728.0,173.97 L730.0,174.33 L732.0,174.69 L734.0,175.05 L736.0,175.42 L738.0,175.79 L740.0,176.16 L742.0,176.54 L744.0,176.92 L746.0,177.31 L748.0,177.69 L750.0,178.08 L752.0,178.48 L754.0,178.88 L756.0,179.28 L758.0,179.68 L760.0,180.09 L762.0,180.50 L764.0,180.92 L766.0,181.34 L768.0,181.76 L770.0,182.18 L772.0,182.61 L774.0,183.05 L776.0,183.48 L778.0,183.92 L780.0,184.37 L782.0,184.82 L784.0,185.27 L786.0,185.72 L788.0,186.18 L790.0,186.65 L792.0,187.11 L794.0,187.59 L796.0,188.06 L798.0,188.54 L800.0,189.02 L802.0,189.51 L804.0,190.00 L806.0,190.50 L808.0,191.00 L810.0,191.50 L812.0,192.01 L814.0,192.52 L816.0,193.03 L818.0,193.55 L820.0,194.08 L822.0,194.61 L824.0,195.14 L826.0,195.68 L828.0,196.22 L830.0,196.76 L832.0,197.31 L834.0,197.87 L836.0,198.43 L838.0,198.99 L840.0,199.56 L842.0,200.13 L844.0,200.71 L846.0,201.29 L848.0,201.87 L850.0,202.46 L852.0,203.06 L854.0,203.66 L856.0,204.26 L858.0,204.87 L860.0,205.48 L862.0,206.10 L864.0,206.72 L866.0,207.35 L868.0,207.99 L870.0,208.62 L872.0,209.26 L874.0,209.91 L876.0,210.56 L878.0,211.22 L880.0,211.88 L882.0,212.55 L884.0,213.22 L886.0,213.90 L888.0,214.58 L890.0,215.27 L892.0,215.96 L894.0,216.66 L896.0,217.36 L898.0,218.07 L900.0,218.78 L902.0,219.50 L904.0,220.22 L906.0,220.95 L908.0,221.68 L910.0,222.42 L912.0,223.16 L914.0,223.91 L916.0,224.66 L918.0,225.42 L920.0,226.19 L922.0,226.96 L924.0,227.73 L926.0,228.51 L928.0,229.30 L930.0,230.09 L932.0,230.89 L934.0,231.69 L936.0,232.50 L938.0,233.31 L940.0,234.13 L942.0,234.95 L944.0,235.78 L946.0,236.62 L948.0,237.46 L950.0,238.30 L952.0,239.15 L954.0,240.01 L956.0,240.87 L958.0,241.74 L960.0,242.61 L962.0,243.49 L964.0,244.37 L966.0,245.26 L968.0,246.16 L970.0,247.06 L972.0,247.97 L974.0,248.88 L976.0,249.80 L978.0,250.72 L980.0,251.65 L982.0,252.58 L984.0,253.53 L986.0,254.47 L988.0,255.42 L990.0,256.38 L992.0,257.35 L994.0,258.32 L996.0,259.29 L998.0,260.27 L1000.0,261.26 L1002.0,262.25 L1004.0,263.25 L1006.0,264.26 L1008.0,265.27 L1010.0,266.28 L1012.0,267.30 L1014.0,268.33 L1016.0,269.37 L1018.0,270.41 L1020.0,271.45 L1022.0,272.50 L1024.0,273.56 L1026.0,274.63 L1028.0,275.70 L1030.0,276.77 L1032.0,277.86 L1034.0,278.94 L1036.0,280.04 L1038.0,281.14 L1040.0,282.24 L1042.0,283.36 L1044.0,284.48 L1046.0,285.60 L1048.0,286.73 L1050.0,287.87 L1052.0,289.01 L1054.0,290.16 L1056.0,291.32 L1058.0,292.48 L1060.0,293.65 L1062.0,294.82 L1064.0,296.00 L1066.0,297.19 L1068.0,298.38 L1070.0,299.58 L1072.0,300.79 L1074.0,302.00 L1076.0,303.22 L1078.0,304.45 L1080.0,305.68 L1082.0,306.92 L1084.0,308.16 L1086.0,309.41 L1088.0,310.67 L1090.0,311.93 L1092.0,313.20 L1094.0,314.48 L1096.0,315.76 L1098.0,317.05 L1100.0,318.35 L1102.0,319.65 L1104.0,320.96 L1106.0,322.27 L1108.0,323.60 L1110.0,324.93 L1112.0,326.26 L1114.0,327.60 L1116.0,328.95 L1118.0,330.31 L1120.0,331.67 L1122.0,333.04 L1124.0,334.41 L1126.0,335.79 L1128.0,337.18 L1130.0,338.58 L1132.0,339.98 L1134.0,341.39 L1136.0,342.81 L1138.0,344.23 L1140.0,345.66 L1142.0,347.09 L1144.0,348.54 L1146.0,349.99 L1148.0,351.44 L1150.0,352.91 L1152.0,354.38 L1154.0,355.85 L1156.0,357.34 L1158.0,358.83 L1160.0,360.33 L1162.0,361.83 L1164.0,363.34 L1166.0,364.86 L1168.0,366.39 L1170.0,367.92 L1172.0,369.46 L1174.0,371.0 L1180.0,371.0" stroke="#31b58a" stroke-width="3.4"/>
<path d="M138.0,227.62 L140.0,227.66 L142.0,227.70 L144.0,227.73 L146.0,227.77 L148.0,227.81 L150.0,227.85 L152.0,227.88 L154.0,227.92 L156.0,227.96 L158.0,228.00 L160.0,228.03 L162.0,228.07 L164.0,228.11 L166.0,228.15 L168.0,228.19 L170.0,228.22 L172.0,228.26 L174.0,228.30 L176.0,228.34 L178.0,228.38 L180.0,228.42 L182.0,228.45 L184.0,228.49 L186.0,228.53 L188.0,228.57 L190.0,228.61 L192.0,228.65 L194.0,228.69 L196.0,228.73 L198.0,228.77 L200.0,228.81 L202.0,228.85 L204.0,228.88 L206.0,228.92 L208.0,228.96 L210.0,229.00 L212.0,229.04 L214.0,229.09 L216.0,229.13 L218.0,229.17 L220.0,229.21 L222.0,229.25 L224.0,229.29 L226.0,229.33 L228.0,229.37 L230.0,229.41 L232.0,229.46 L234.0,229.50 L236.0,229.54 L238.0,229.58 L240.0,229.62 L242.0,229.67 L244.0,229.71 L246.0,229.75 L248.0,229.80 L250.0,229.84 L252.0,229.88 L254.0,229.93 L256.0,229.97 L258.0,230.01 L260.0,230.06 L262.0,230.10 L264.0,230.15 L266.0,230.19 L268.0,230.24 L270.0,230.28 L272.0,230.33 L274.0,230.38 L276.0,230.42 L278.0,230.47 L280.0,230.52 L282.0,230.56 L284.0,230.61 L286.0,230.66 L288.0,230.70 L290.0,230.75 L292.0,230.80 L294.0,230.85 L296.0,230.90 L298.0,230.95 L300.0,231.00 L302.0,231.05 L304.0,231.10 L306.0,231.15 L308.0,231.20 L310.0,231.25 L312.0,231.30 L314.0,231.35 L316.0,231.40 L318.0,231.45 L320.0,231.51 L322.0,231.56 L324.0,231.61 L326.0,231.67 L328.0,231.72 L330.0,231.77 L332.0,231.83 L334.0,231.88 L336.0,231.94 L338.0,231.99 L340.0,232.05 L342.0,232.10 L344.0,232.16 L346.0,232.22 L348.0,232.27 L350.0,232.33 L352.0,232.39 L354.0,232.45 L356.0,232.50 L358.0,232.56 L360.0,232.62 L362.0,232.68 L364.0,232.74 L366.0,232.80 L368.0,232.86 L370.0,232.92 L372.0,232.99 L374.0,233.05 L376.0,233.11 L378.0,233.17 L380.0,233.24 L382.0,233.30 L384.0,233.36 L386.0,233.43 L388.0,233.49 L390.0,233.56 L392.0,233.62 L394.0,233.69 L396.0,233.76 L398.0,233.82 L400.0,233.89 L402.0,233.96 L404.0,234.03 L406.0,234.10 L408.0,234.16 L410.0,234.23 L412.0,234.30 L414.0,234.38 L416.0,234.45 L418.0,234.52 L420.0,234.59 L422.0,234.66 L424.0,234.74 L426.0,234.81 L428.0,234.88 L430.0,234.96 L432.0,235.03 L434.0,235.11 L436.0,235.18 L438.0,235.26 L440.0,235.34 L442.0,235.41 L444.0,235.49 L446.0,235.57 L448.0,235.65 L450.0,235.73 L452.0,235.81 L454.0,235.89 L456.0,235.97 L458.0,236.05 L460.0,236.13 L462.0,236.22 L464.0,236.30 L466.0,236.38 L468.0,236.47 L470.0,236.55 L472.0,236.64 L474.0,236.72 L476.0,236.81 L478.0,236.90 L480.0,236.99 L482.0,237.07 L484.0,237.16 L486.0,237.25 L488.0,237.34 L490.0,237.43 L492.0,237.52 L494.0,237.62 L496.0,237.71 L498.0,237.80 L500.0,237.89 L502.0,237.99 L504.0,238.08 L506.0,238.18 L508.0,238.28 L510.0,238.37 L512.0,238.47 L514.0,238.57 L516.0,238.67 L518.0,238.76 L520.0,238.86 L522.0,238.96 L524.0,239.07 L526.0,239.17 L528.0,239.27 L530.0,239.37 L532.0,239.48 L534.0,239.58 L536.0,239.69 L538.0,239.79 L540.0,239.90 L542.0,240.01 L544.0,240.11 L546.0,240.22 L548.0,240.33 L550.0,240.44 L552.0,240.55 L554.0,240.66 L556.0,240.77 L558.0,240.89 L560.0,241.00 L562.0,241.11 L564.0,241.23 L566.0,241.34 L568.0,241.46 L570.0,241.58 L572.0,241.69 L574.0,241.81 L576.0,241.93 L578.0,242.05 L580.0,242.17 L582.0,242.29 L584.0,242.41 L586.0,242.54 L588.0,242.66 L590.0,242.78 L592.0,242.91 L594.0,243.03 L596.0,243.16 L598.0,243.29 L600.0,243.42 L602.0,243.55 L604.0,243.67 L606.0,243.80 L608.0,243.94 L610.0,244.07 L612.0,244.20 L614.0,244.33 L616.0,244.47 L618.0,244.60 L620.0,244.74 L622.0,244.88 L624.0,245.01 L626.0,245.15 L628.0,245.29 L630.0,245.43 L632.0,245.57 L634.0,245.71 L636.0,245.85 L638.0,246.00 L640.0,246.14 L642.0,246.29 L644.0,246.43 L646.0,246.58 L648.0,246.73 L650.0,246.87 L652.0,247.02 L654.0,247.17 L656.0,247.32 L658.0,247.48 L660.0,247.63 L662.0,247.78 L664.0,247.94 L666.0,248.09 L668.0,248.25 L670.0,248.40 L672.0,248.56 L674.0,248.72 L676.0,248.88 L678.0,249.04 L680.0,249.20 L682.0,249.36 L684.0,249.53 L686.0,249.69 L688.0,249.86 L690.0,250.02 L692.0,250.19 L694.0,250.36 L696.0,250.53 L698.0,250.70 L700.0,250.87 L702.0,251.04 L704.0,251.22 L706.0,251.39 L708.0,251.57 L710.0,251.75 L712.0,251.93 L714.0,252.11 L716.0,252.29 L718.0,252.47 L720.0,252.65 L722.0,252.84 L724.0,253.03 L726.0,253.22 L728.0,253.41 L730.0,253.60 L732.0,253.79 L734.0,253.99 L736.0,254.18 L738.0,254.38 L740.0,254.58 L742.0,254.78 L744.0,254.98 L746.0,255.19 L748.0,255.39 L750.0,255.60 L752.0,255.81 L754.0,256.02 L756.0,256.23 L758.0,256.45 L760.0,256.66 L762.0,256.88 L764.0,257.10 L766.0,257.33 L768.0,257.55 L770.0,257.78 L772.0,258.00 L774.0,258.23 L776.0,258.47 L778.0,258.70 L780.0,258.94 L782.0,259.17 L784.0,259.41 L786.0,259.66 L788.0,259.90 L790.0,260.15 L792.0,260.40 L794.0,260.65 L796.0,260.90 L798.0,261.16 L800.0,261.41 L802.0,261.67 L804.0,261.94 L806.0,262.20 L808.0,262.47 L810.0,262.74 L812.0,263.01 L814.0,263.28 L816.0,263.56 L818.0,263.84 L820.0,264.12 L822.0,264.40 L824.0,264.69 L826.0,264.98 L828.0,265.27 L830.0,265.57 L832.0,265.86 L834.0,266.16 L836.0,266.47 L838.0,266.77 L840.0,267.08 L842.0,267.39 L844.0,267.70 L846.0,268.02 L848.0,268.34 L850.0,268.66 L852.0,268.98 L854.0,269.31 L856.0,269.64 L858.0,269.98 L860.0,270.31 L862.0,270.65 L864.0,270.99 L866.0,271.34 L868.0,271.69 L870.0,272.04 L872.0,272.39 L874.0,272.75 L876.0,273.11 L878.0,273.48 L880.0,273.84 L882.0,274.21 L884.0,274.59 L886.0,274.96 L888.0,275.34 L890.0,275.73 L892.0,276.11 L894.0,276.50 L896.0,276.90 L898.0,277.29 L900.0,277.69 L902.0,278.09 L904.0,278.50 L906.0,278.91 L908.0,279.32 L910.0,279.73 L912.0,280.14 L914.0,280.56 L916.0,280.98 L918.0,281.40 L920.0,281.82 L922.0,282.25 L924.0,282.68 L926.0,283.10 L928.0,283.53 L930.0,283.97 L932.0,284.40 L934.0,284.83 L936.0,285.27 L938.0,285.71 L940.0,286.14 L942.0,286.58 L944.0,287.02 L946.0,287.46 L948.0,287.90 L950.0,288.35 L952.0,288.79 L954.0,289.24 L956.0,289.69 L958.0,290.13 L960.0,290.58 L962.0,291.04 L964.0,291.49 L966.0,291.94 L968.0,292.40 L970.0,292.86 L972.0,293.32 L974.0,293.78 L976.0,294.25 L978.0,294.71 L980.0,295.18 L982.0,295.65 L984.0,296.12 L986.0,296.60 L988.0,297.07 L990.0,297.55 L992.0,298.03 L994.0,298.51 L996.0,299.00 L998.0,299.49 L1000.0,299.98 L1002.0,300.47 L1004.0,300.96 L1006.0,301.46 L1008.0,301.96 L1010.0,302.46 L1012.0,302.97 L1014.0,303.48 L1016.0,303.99 L1018.0,304.50 L1020.0,305.02 L1022.0,305.54 L1024.0,306.06 L1026.0,306.58 L1028.0,307.11 L1030.0,307.64 L1032.0,308.18 L1034.0,308.71 L1036.0,309.25 L1038.0,309.79 L1040.0,310.34 L1042.0,310.89 L1044.0,311.44 L1046.0,312.00 L1048.0,312.56 L1050.0,313.12 L1052.0,313.69 L1054.0,314.26 L1056.0,314.83 L1058.0,315.41 L1060.0,315.99 L1062.0,316.57 L1064.0,317.16 L1066.0,317.75 L1068.0,318.35 L1070.0,318.94 L1072.0,319.55 L1074.0,320.15 L1076.0,320.76 L1078.0,321.38 L1080.0,322.00 L1082.0,322.62 L1084.0,323.25 L1086.0,323.88 L1088.0,324.51 L1090.0,325.15 L1092.0,325.79 L1094.0,326.44 L1096.0,327.09 L1098.0,327.75 L1100.0,328.41 L1102.0,329.07 L1104.0,329.74 L1106.0,330.42 L1108.0,331.09 L1110.0,331.78 L1112.0,332.46 L1114.0,333.16 L1116.0,333.85 L1118.0,334.56 L1120.0,335.26 L1122.0,335.97 L1124.0,336.69 L1126.0,337.41 L1128.0,338.13 L1130.0,338.86 L1132.0,339.60 L1134.0,340.33 L1136.0,341.08 L1138.0,341.82 L1140.0,342.57 L1142.0,343.33 L1144.0,344.08 L1146.0,344.85 L1148.0,345.61 L1150.0,346.38 L1152.0,347.15 L1154.0,347.93 L1156.0,348.71 L1158.0,349.49 L1160.0,350.28 L1162.0,351.07 L1164.0,351.86 L1166.0,352.66 L1168.0,353.46 L1170.0,354.26 L1172.0,355.06 L1174.0,355.87 L1176.0,356.68 L1178.0,357.49 L1180.0,358.31 L1182.0,359.12 L1184.0,359.94 L1186.0,360.76 L1188.0,361.59 L1190.0,362.42 L1192.0,363.24 L1194.0,364.07 L1196.0,364.91 L1198.0,365.74 L1200.0,366.58 L1202.0,367.41 L1204.0,368.25 L1206.0,369.09 L1208.0,369.94 L1210.0,370.78 L1210.5,371.0 L1216.5,371.0" stroke="#acd576" stroke-width="3.4"/>
<path d="M138.0,299.90 L140.0,299.91 L142.0,299.92 L144.0,299.93 L146.0,299.94 L148.0,299.95 L150.0,299.96 L152.0,299.98 L154.0,299.99 L156.0,300.00 L158.0,300.02 L160.0,300.03 L162.0,300.05 L164.0,300.06 L166.0,300.08 L168.0,300.10 L170.0,300.12 L172.0,300.13 L174.0,300.15 L176.0,300.17 L178.0,300.19 L180.0,300.21 L182.0,300.23 L184.0,300.25 L186.0,300.28 L188.0,300.30 L190.0,300.32 L192.0,300.34 L194.0,300.37 L196.0,300.39 L198.0,300.42 L200.0,300.44 L202.0,300.47 L204.0,300.50 L206.0,300.52 L208.0,300.55 L210.0,300.58 L212.0,300.61 L214.0,300.64 L216.0,300.67 L218.0,300.70 L220.0,300.73 L222.0,300.76 L224.0,300.79 L226.0,300.82 L228.0,300.86 L230.0,300.89 L232.0,300.92 L234.0,300.96 L236.0,300.99 L238.0,301.03 L240.0,301.06 L242.0,301.10 L244.0,301.14 L246.0,301.17 L248.0,301.21 L250.0,301.25 L252.0,301.29 L254.0,301.33 L256.0,301.37 L258.0,301.41 L260.0,301.45 L262.0,301.49 L264.0,301.54 L266.0,301.58 L268.0,301.62 L270.0,301.67 L272.0,301.71 L274.0,301.76 L276.0,301.80 L278.0,301.85 L280.0,301.90 L282.0,301.94 L284.0,301.99 L286.0,302.04 L288.0,302.09 L290.0,302.14 L292.0,302.19 L294.0,302.24 L296.0,302.29 L298.0,302.34 L300.0,302.39 L302.0,302.44 L304.0,302.50 L306.0,302.55 L308.0,302.60 L310.0,302.66 L312.0,302.71 L314.0,302.77 L316.0,302.82 L318.0,302.88 L320.0,302.94 L322.0,303.00 L324.0,303.05 L326.0,303.11 L328.0,303.17 L330.0,303.23 L332.0,303.29 L334.0,303.35 L336.0,303.41 L338.0,303.48 L340.0,303.54 L342.0,303.60 L344.0,303.67 L346.0,303.73 L348.0,303.79 L350.0,303.86 L352.0,303.93 L354.0,303.99 L356.0,304.06 L358.0,304.13 L360.0,304.19 L362.0,304.26 L364.0,304.33 L366.0,304.40 L368.0,304.47 L370.0,304.54 L372.0,304.61 L374.0,304.68 L376.0,304.75 L378.0,304.83 L380.0,304.90 L382.0,304.97 L384.0,305.05 L386.0,305.12 L388.0,305.20 L390.0,305.27 L392.0,305.35 L394.0,305.43 L396.0,305.50 L398.0,305.58 L400.0,305.66 L402.0,305.74 L404.0,305.82 L406.0,305.90 L408.0,305.98 L410.0,306.06 L412.0,306.14 L414.0,306.22 L416.0,306.31 L418.0,306.39 L420.0,306.47 L422.0,306.56 L424.0,306.64 L426.0,306.73 L428.0,306.81 L430.0,306.90 L432.0,306.99 L434.0,307.08 L436.0,307.16 L438.0,307.25 L440.0,307.34 L442.0,307.43 L444.0,307.52 L446.0,307.61 L448.0,307.70 L450.0,307.79 L452.0,307.89 L454.0,307.98 L456.0,308.07 L458.0,308.17 L460.0,308.26 L462.0,308.36 L464.0,308.45 L466.0,308.55 L468.0,308.64 L470.0,308.74 L472.0,308.84 L474.0,308.94 L476.0,309.04 L478.0,309.14 L480.0,309.24 L482.0,309.34 L484.0,309.44 L486.0,309.54 L488.0,309.64 L490.0,309.74 L492.0,309.85 L494.0,309.95 L496.0,310.05 L498.0,310.16 L500.0,310.26 L502.0,310.37 L504.0,310.47 L506.0,310.58 L508.0,310.69 L510.0,310.80 L512.0,310.90 L514.0,311.01 L516.0,311.12 L518.0,311.23 L520.0,311.34 L522.0,311.45 L524.0,311.57 L526.0,311.68 L528.0,311.79 L530.0,311.90 L532.0,312.02 L534.0,312.13 L536.0,312.25 L538.0,312.36 L540.0,312.48 L542.0,312.59 L544.0,312.71 L546.0,312.83 L548.0,312.95 L550.0,313.07 L552.0,313.18 L554.0,313.30 L556.0,313.42 L558.0,313.55 L560.0,313.67 L562.0,313.79 L564.0,313.91 L566.0,314.03 L568.0,314.16 L570.0,314.28 L572.0,314.41 L574.0,314.53 L576.0,314.66 L578.0,314.78 L580.0,314.91 L582.0,315.04 L584.0,315.17 L586.0,315.30 L588.0,315.43 L590.0,315.56 L592.0,315.69 L594.0,315.82 L596.0,315.96 L598.0,316.09 L600.0,316.22 L602.0,316.36 L604.0,316.50 L606.0,316.63 L608.0,316.77 L610.0,316.91 L612.0,317.05 L614.0,317.19 L616.0,317.33 L618.0,317.48 L620.0,317.62 L622.0,317.76 L624.0,317.91 L626.0,318.06 L628.0,318.20 L630.0,318.35 L632.0,318.50 L634.0,318.65 L636.0,318.81 L638.0,318.96 L640.0,319.11 L642.0,319.27 L644.0,319.42 L646.0,319.58 L648.0,319.74 L650.0,319.90 L652.0,320.06 L654.0,320.22 L656.0,320.39 L658.0,320.55 L660.0,320.72 L662.0,320.88 L664.0,321.05 L666.0,321.22 L668.0,321.39 L670.0,321.57 L672.0,321.74 L674.0,321.91 L676.0,322.09 L678.0,322.27 L680.0,322.45 L682.0,322.63 L684.0,322.81 L686.0,322.99 L688.0,323.18 L690.0,323.36 L692.0,323.55 L694.0,323.74 L696.0,323.93 L698.0,324.12 L700.0,324.32 L702.0,324.51 L704.0,324.71 L706.0,324.91 L708.0,325.11 L710.0,325.31 L712.0,325.52 L714.0,325.72 L716.0,325.93 L718.0,326.14 L720.0,326.35 L722.0,326.56 L724.0,326.77 L726.0,326.99 L728.0,327.20 L730.0,327.42 L732.0,327.64 L734.0,327.86 L736.0,328.09 L738.0,328.31 L740.0,328.54 L742.0,328.77 L744.0,329.00 L746.0,329.24 L748.0,329.47 L750.0,329.71 L752.0,329.95 L754.0,330.19 L756.0,330.43 L758.0,330.67 L760.0,330.92 L762.0,331.17 L764.0,331.42 L766.0,331.67 L768.0,331.93 L770.0,332.19 L772.0,332.44 L774.0,332.71 L776.0,332.97 L778.0,333.23 L780.0,333.50 L782.0,333.77 L784.0,334.04 L786.0,334.32 L788.0,334.59 L790.0,334.87 L792.0,335.16 L794.0,335.44 L796.0,335.73 L798.0,336.02 L800.0,336.31 L802.0,336.60 L804.0,336.90 L806.0,337.20 L808.0,337.50 L810.0,337.81 L812.0,338.12 L814.0,338.43 L816.0,338.75 L818.0,339.06 L820.0,339.38 L822.0,339.71 L824.0,340.04 L826.0,340.37 L828.0,340.70 L830.0,341.04 L832.0,341.38 L834.0,341.72 L836.0,342.07 L838.0,342.42 L840.0,342.77 L842.0,343.13 L844.0,343.49 L846.0,343.85 L848.0,344.22 L850.0,344.60 L852.0,344.97 L854.0,345.35 L856.0,345.73 L858.0,346.12 L860.0,346.51 L862.0,346.91 L864.0,347.31 L866.0,347.71 L868.0,348.12 L870.0,348.53 L872.0,348.94 L874.0,349.36 L876.0,349.79 L878.0,350.21 L880.0,350.65 L882.0,351.08 L884.0,351.52 L886.0,351.97 L888.0,352.41 L890.0,352.87 L892.0,353.32 L894.0,353.78 L896.0,354.25 L898.0,354.72 L900.0,355.19 L902.0,355.67 L904.0,356.15 L906.0,356.64 L908.0,357.13 L910.0,357.63 L912.0,358.13 L914.0,358.63 L916.0,359.14 L918.0,359.65 L920.0,360.17 L922.0,360.69 L924.0,361.22 L926.0,361.75 L928.0,362.28 L930.0,362.82 L932.0,363.37 L934.0,363.92 L936.0,364.47 L938.0,365.03 L940.0,365.59 L942.0,366.16 L944.0,366.73 L946.0,367.31 L948.0,367.89 L950.0,368.48 L952.0,369.07 L954.0,369.66 L954.5,369.81 Q958.5,371.0 961.5,371.0 L1156.0,371.0" stroke="#d89ac6" stroke-width="3.4"/>
<path d="M138.0,244.80 L140.0,244.81 L142.0,244.83 L144.0,244.84 L146.0,244.86 L148.0,244.87 L150.0,244.89 L152.0,244.90 L154.0,244.92 L156.0,244.94 L158.0,244.95 L160.0,244.97 L162.0,244.99 L164.0,245.01 L166.0,245.03 L168.0,245.05 L170.0,245.07 L172.0,245.09 L174.0,245.11 L176.0,245.13 L178.0,245.15 L180.0,245.17 L182.0,245.19 L184.0,245.22 L186.0,245.24 L188.0,245.26 L190.0,245.29 L192.0,245.31 L194.0,245.34 L196.0,245.36 L198.0,245.39 L200.0,245.41 L202.0,245.44 L204.0,245.47 L206.0,245.49 L208.0,245.52 L210.0,245.55 L212.0,245.58 L214.0,245.61 L216.0,245.64 L218.0,245.67 L220.0,245.70 L222.0,245.73 L224.0,245.76 L226.0,245.79 L228.0,245.82 L230.0,245.86 L232.0,245.89 L234.0,245.92 L236.0,245.96 L238.0,245.99 L240.0,246.03 L242.0,246.06 L244.0,246.10 L246.0,246.14 L248.0,246.17 L250.0,246.21 L252.0,246.25 L254.0,246.28 L256.0,246.32 L258.0,246.36 L260.0,246.40 L262.0,246.44 L264.0,246.48 L266.0,246.52 L268.0,246.56 L270.0,246.61 L272.0,246.65 L274.0,246.69 L276.0,246.73 L278.0,246.78 L280.0,246.82 L282.0,246.87 L284.0,246.91 L286.0,246.96 L288.0,247.00 L290.0,247.05 L292.0,247.10 L294.0,247.14 L296.0,247.19 L298.0,247.24 L300.0,247.29 L302.0,247.34 L304.0,247.39 L306.0,247.44 L308.0,247.49 L310.0,247.54 L312.0,247.59 L314.0,247.64 L316.0,247.69 L318.0,247.75 L320.0,247.80 L322.0,247.85 L324.0,247.91 L326.0,247.96 L328.0,248.02 L330.0,248.08 L332.0,248.13 L334.0,248.19 L336.0,248.25 L338.0,248.30 L340.0,248.36 L342.0,248.42 L344.0,248.48 L346.0,248.54 L348.0,248.60 L350.0,248.66 L352.0,248.72 L354.0,248.79 L356.0,248.85 L358.0,248.91 L360.0,248.97 L362.0,249.04 L364.0,249.10 L366.0,249.17 L368.0,249.23 L370.0,249.30 L372.0,249.37 L374.0,249.43 L376.0,249.50 L378.0,249.57 L380.0,249.64 L382.0,249.70 L384.0,249.77 L386.0,249.84 L388.0,249.91 L390.0,249.99 L392.0,250.06 L394.0,250.13 L396.0,250.20 L398.0,250.27 L400.0,250.35 L402.0,250.42 L404.0,250.50 L406.0,250.57 L408.0,250.65 L410.0,250.72 L412.0,250.80 L414.0,250.88 L416.0,250.96 L418.0,251.03 L420.0,251.11 L422.0,251.19 L424.0,251.27 L426.0,251.35 L428.0,251.43 L430.0,251.52 L432.0,251.60 L434.0,251.68 L436.0,251.76 L438.0,251.85 L440.0,251.93 L442.0,252.02 L444.0,252.10 L446.0,252.19 L448.0,252.27 L450.0,252.36 L452.0,252.45 L454.0,252.53 L456.0,252.62 L458.0,252.71 L460.0,252.80 L462.0,252.89 L464.0,252.98 L466.0,253.07 L468.0,253.17 L470.0,253.26 L472.0,253.35 L474.0,253.44 L476.0,253.54 L478.0,253.63 L480.0,253.73 L482.0,253.82 L484.0,253.92 L486.0,254.02 L488.0,254.11 L490.0,254.21 L492.0,254.31 L494.0,254.41 L496.0,254.51 L498.0,254.61 L500.0,254.71 L502.0,254.81 L504.0,254.91 L506.0,255.02 L508.0,255.12 L510.0,255.22 L512.0,255.33 L514.0,255.43 L516.0,255.54 L518.0,255.64 L520.0,255.75 L522.0,255.85 L524.0,255.96 L526.0,256.07 L528.0,256.18 L530.0,256.29 L532.0,256.40 L534.0,256.51 L536.0,256.62 L538.0,256.73 L540.0,256.84 L542.0,256.96 L544.0,257.07 L546.0,257.18 L548.0,257.30 L550.0,257.41 L552.0,257.53 L554.0,257.64 L556.0,257.76 L558.0,257.88 L560.0,258.00 L562.0,258.12 L564.0,258.23 L566.0,258.35 L568.0,258.48 L570.0,258.60 L572.0,258.72 L574.0,258.84 L576.0,258.96 L578.0,259.09 L580.0,259.21 L582.0,259.33 L584.0,259.46 L586.0,259.59 L588.0,259.71 L590.0,259.84 L592.0,259.97 L594.0,260.10 L596.0,260.22 L598.0,260.35 L600.0,260.48 L602.0,260.61 L604.0,260.75 L606.0,260.88 L608.0,261.01 L610.0,261.14 L612.0,261.28 L614.0,261.41 L616.0,261.55 L618.0,261.68 L620.0,261.82 L622.0,261.95 L624.0,262.09 L626.0,262.23 L628.0,262.37 L630.0,262.51 L632.0,262.65 L634.0,262.79 L636.0,262.93 L638.0,263.07 L640.0,263.21 L642.0,263.36 L644.0,263.50 L646.0,263.64 L648.0,263.79 L650.0,263.94 L652.0,264.08 L654.0,264.23 L656.0,264.38 L658.0,264.52 L660.0,264.67 L662.0,264.82 L664.0,264.97 L666.0,265.12 L668.0,265.27 L670.0,265.43 L672.0,265.58 L674.0,265.73 L676.0,265.89 L678.0,266.04 L680.0,266.20 L682.0,266.35 L684.0,266.51 L686.0,266.67 L688.0,266.82 L690.0,266.98 L692.0,267.14 L694.0,267.31 L696.0,267.47 L698.0,267.63 L700.0,267.80 L702.0,267.96 L704.0,268.13 L706.0,268.30 L708.0,268.47 L710.0,268.64 L712.0,268.81 L714.0,268.99 L716.0,269.16 L718.0,269.34 L720.0,269.52 L722.0,269.70 L724.0,269.88 L726.0,270.07 L728.0,270.25 L730.0,270.44 L732.0,270.63 L734.0,270.82 L736.0,271.02 L738.0,271.21 L740.0,271.41 L742.0,271.61 L744.0,271.82 L746.0,272.02 L748.0,272.23 L750.0,272.44 L752.0,272.65 L754.0,272.87 L756.0,273.08 L758.0,273.30 L760.0,273.52 L762.0,273.75 L764.0,273.98 L766.0,274.21 L768.0,274.44 L770.0,274.68 L772.0,274.92 L774.0,275.16 L776.0,275.40 L778.0,275.65 L780.0,275.90 L782.0,276.16 L784.0,276.41 L786.0,276.68 L788.0,276.94 L790.0,277.21 L792.0,277.48 L794.0,277.75 L796.0,278.03 L798.0,278.31 L800.0,278.60 L802.0,278.88 L804.0,279.18 L806.0,279.47 L808.0,279.77 L810.0,280.08 L812.0,280.38 L814.0,280.69 L816.0,281.01 L818.0,281.33 L820.0,281.65 L822.0,281.98 L824.0,282.31 L826.0,282.65 L828.0,282.99 L830.0,283.33 L832.0,283.68 L834.0,284.03 L836.0,284.39 L838.0,284.75 L840.0,285.11 L842.0,285.48 L844.0,285.85 L846.0,286.23 L848.0,286.61 L850.0,286.99 L852.0,287.38 L854.0,287.77 L856.0,288.16 L858.0,288.56 L860.0,288.96 L862.0,289.36 L864.0,289.76 L866.0,290.17 L868.0,290.58 L870.0,290.99 L872.0,291.41 L874.0,291.82 L876.0,292.24 L878.0,292.66 L880.0,293.09 L882.0,293.51 L884.0,293.94 L886.0,294.37 L888.0,294.80 L890.0,295.23 L892.0,295.67 L894.0,296.11 L896.0,296.54 L898.0,296.98 L900.0,297.42 L902.0,297.86 L904.0,298.31 L906.0,298.75 L908.0,299.20 L910.0,299.65 L912.0,300.10 L914.0,300.55 L916.0,301.00 L918.0,301.46 L920.0,301.92 L922.0,302.38 L924.0,302.84 L926.0,303.30 L928.0,303.76 L930.0,304.23 L932.0,304.69 L934.0,305.16 L936.0,305.63 L938.0,306.11 L940.0,306.58 L942.0,307.06 L944.0,307.53 L946.0,308.01 L948.0,308.49 L950.0,308.98 L952.0,309.46 L954.0,309.95 L956.0,310.44 L958.0,310.93 L960.0,311.42 L962.0,311.91 L964.0,312.41 L966.0,312.91 L968.0,313.41 L970.0,313.91 L972.0,314.42 L974.0,314.92 L976.0,315.43 L978.0,315.94 L980.0,316.45 L982.0,316.96 L984.0,317.48 L986.0,318.00 L988.0,318.52 L990.0,319.04 L992.0,319.57 L994.0,320.09 L996.0,320.62 L998.0,321.15 L1000.0,321.69 L1002.0,322.22 L1004.0,322.76 L1006.0,323.31 L1008.0,323.85 L1010.0,324.40 L1012.0,324.95 L1014.0,325.50 L1016.0,326.06 L1018.0,326.62 L1020.0,327.18 L1022.0,327.74 L1024.0,328.31 L1026.0,328.88 L1028.0,329.46 L1030.0,330.04 L1032.0,330.62 L1034.0,331.20 L1036.0,331.79 L1038.0,332.38 L1040.0,332.98 L1042.0,333.58 L1044.0,334.18 L1046.0,334.79 L1048.0,335.40 L1050.0,336.01 L1052.0,336.63 L1054.0,337.25 L1056.0,337.88 L1058.0,338.51 L1060.0,339.14 L1062.0,339.78 L1064.0,340.42 L1066.0,341.07 L1068.0,341.72 L1070.0,342.38 L1072.0,343.04 L1074.0,343.70 L1076.0,344.37 L1078.0,345.04 L1080.0,345.72 L1082.0,346.41 L1084.0,347.09 L1086.0,347.79 L1088.0,348.48 L1090.0,349.19 L1092.0,349.90 L1094.0,350.61 L1096.0,351.33 L1098.0,352.05 L1100.0,352.78 L1102.0,353.51 L1104.0,354.25 L1106.0,354.99 L1108.0,355.74 L1110.0,356.50 L1112.0,357.26 L1114.0,358.03 L1116.0,358.80 L1118.0,359.58 L1120.0,360.36 L1122.0,361.14 L1124.0,361.93 L1126.0,362.71 L1128.0,363.49 L1130.0,364.25 L1132.0,365.00 L1134.0,365.74 L1136.0,366.45 L1138.0,367.14 L1140.0,367.81 Q1152.0,371.0 1160.0,371.0 L1321.5,371.0" stroke="#fec545" stroke-width="3.4"/>
</g>
<line x1="569.7" y1="125.8" x2="569.7" y2="543.1" stroke="#ee3230" stroke-width="2.2" stroke-dasharray="14.35,14.35"/>
<line x1="891.0" y1="125.8" x2="891.0" y2="543.1" stroke="#ea221d" stroke-width="2.2" stroke-dasharray="14.35,14.35"/>
<line x1="1104.8" y1="125.8" x2="1104.8" y2="543.1" stroke="#ee5035" stroke-width="2.2" stroke-dasharray="14.35,14.35"/>
<rect x="140.2" y="110.5" width="1179.3" height="432.6" fill="none" stroke="#000" stroke-width="2.6"/>
<line x1="248.2" y1="544.4" x2="248.2" y2="552.1" stroke="#3a3a3a" stroke-width="2.4"/>
<line x1="462.3" y1="544.4" x2="462.3" y2="552.1" stroke="#3a3a3a" stroke-width="2.4"/>
<line x1="676.3" y1="544.4" x2="676.3" y2="552.1" stroke="#3a3a3a" stroke-width="2.4"/>
<line x1="890.4" y1="544.4" x2="890.4" y2="552.1" stroke="#3a3a3a" stroke-width="2.4"/>
<line x1="1104.4" y1="544.4" x2="1104.4" y2="552.1" stroke="#3a3a3a" stroke-width="2.4"/>
<line x1="1318.5" y1="544.4" x2="1318.5" y2="552.1" stroke="#3a3a3a" stroke-width="2.4"/>
<line x1="138.9" y1="522.0" x2="131.2" y2="522.0" stroke="#3a3a3a" stroke-width="2.4"/>
<line x1="138.9" y1="446.5" x2="131.2" y2="446.5" stroke="#3a3a3a" stroke-width="2.4"/>
<line x1="138.9" y1="371.0" x2="131.2" y2="371.0" stroke="#3a3a3a" stroke-width="2.4"/>
<line x1="138.9" y1="295.5" x2="131.2" y2="295.5" stroke="#3a3a3a" stroke-width="2.4"/>
<line x1="138.9" y1="220.0" x2="131.2" y2="220.0" stroke="#3a3a3a" stroke-width="2.4"/>
<line x1="138.9" y1="144.6" x2="131.2" y2="144.6" stroke="#3a3a3a" stroke-width="2.4"/>
<text x="248.2" y="582.7" font-family="Liberation Sans, Arial, sans-serif" font-size="26" fill="#2a3f5f" stroke="#2a3f5f" stroke-width="0.3" text-anchor="middle">−6</text>
<text x="462.3" y="582.7" font-family="Liberation Sans, Arial, sans-serif" font-size="26" fill="#2a3f5f" stroke="#2a3f5f" stroke-width="0.3" text-anchor="middle">−5</text>
<text x="676.3" y="582.7" font-family="Liberation Sans, Arial, sans-serif" font-size="26" fill="#2a3f5f" stroke="#2a3f5f" stroke-width="0.3" text-anchor="middle">−4</text>
<text x="890.4" y="582.7" font-family="Liberation Sans, Arial, sans-serif" font-size="26" fill="#2a3f5f" stroke="#2a3f5f" stroke-width="0.3" text-anchor="middle">−3</text>
<text x="1104.4" y="582.7" font-family="Liberation Sans, Arial, sans-serif" font-size="26" fill="#2a3f5f" stroke="#2a3f5f" stroke-width="0.3" text-anchor="middle">−2</text>
<text x="1318.5" y="582.7" font-family="Liberation Sans, Arial, sans-serif" font-size="26" fill="#2a3f5f" stroke="#2a3f5f" stroke-width="0.3" text-anchor="middle">−1</text>
<text x="126.2" y="531.2" font-family="Liberation Sans, Arial, sans-serif" font-size="26" fill="#2a3f5f" stroke="#2a3f5f" stroke-width="0.3" text-anchor="end">−0.2</text>
<text x="126.2" y="455.7" font-family="Liberation Sans, Arial, sans-serif" font-size="26" fill="#2a3f5f" stroke="#2a3f5f" stroke-width="0.3" text-anchor="end">−0.1</text>
<text x="126.2" y="380.2" font-family="Liberation Sans, Arial, sans-serif" font-size="26" fill="#2a3f5f" stroke="#2a3f5f" stroke-width="0.3" text-anchor="end">0</text>
<text x="126.2" y="304.7" font-family="Liberation Sans, Arial, sans-serif" font-size="26" fill="#2a3f5f" stroke="#2a3f5f" stroke-width="0.3" text-anchor="end">0.1</text>
<text x="126.2" y="229.2" font-family="Liberation Sans, Arial, sans-serif" font-size="26" fill="#2a3f5f" stroke="#2a3f5f" stroke-width="0.3" text-anchor="end">0.2</text>
<text x="126.2" y="153.8" font-family="Liberation Sans, Arial, sans-serif" font-size="26" fill="#2a3f5f" stroke="#2a3f5f" stroke-width="0.3" text-anchor="end">0.3</text>
<text x="644.3" y="148.7" font-family="Liberation Sans, Arial, sans-serif" font-size="21.4" letter-spacing="-0.25" fill="#000" stroke="#000" stroke-width="0.35" text-anchor="middle">Small penalty</text>
<text x="974.1" y="148.7" font-family="Liberation Sans, Arial, sans-serif" font-size="21.4" letter-spacing="-0.25" fill="#000" stroke="#000" stroke-width="0.35" text-anchor="middle">Medium penalty</text>
<text x="1185.2" y="148.7" font-family="Liberation Sans, Arial, sans-serif" font-size="21.4" letter-spacing="-0.25" fill="#000" stroke="#000" stroke-width="0.35" text-anchor="middle">Large penalty</text>
<text transform="translate(39.6,326.2) rotate(-90)" font-family="Liberation Sans, Arial, sans-serif" font-size="26.4" fill="#2a3f5f" stroke="#2a3f5f" stroke-width="0.25" text-anchor="middle">Coefficients</text>
<text x="730.0" y="635.9" font-family="Liberation Serif, serif" font-size="28" fill="#2a3f5f" stroke="#2a3f5f" stroke-width="0.3" text-anchor="middle">ln <tspan font-style="italic">λ</tspan></text>
<text x="84.9" y="31" font-family="DejaVu Sans, sans-serif" font-size="27.0" fill="#2a3f5f" stroke="#2a3f5f" stroke-width="0.55">Elastic net coefficient path</text>
</svg>
</body></html>
